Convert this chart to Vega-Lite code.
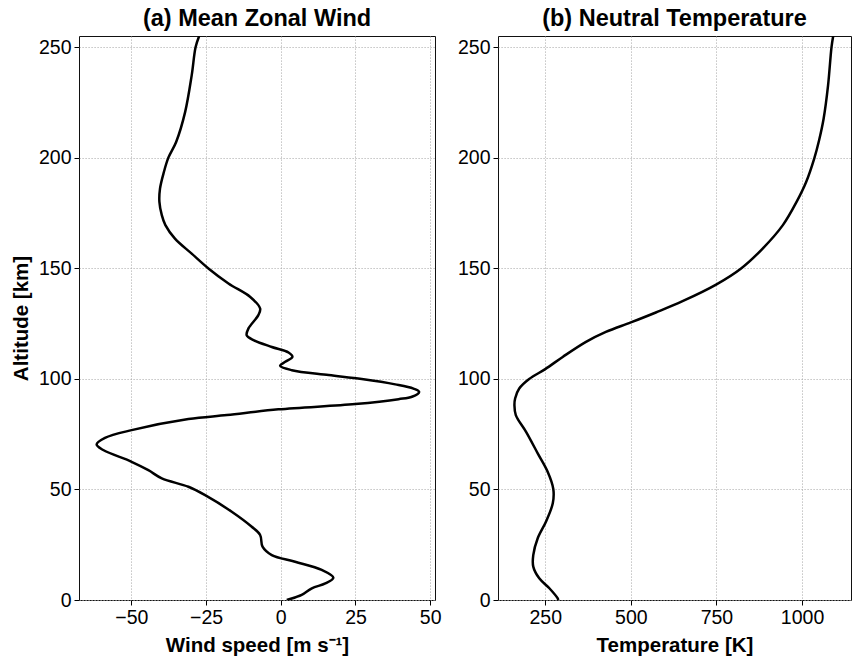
{
  "$schema": "https://vega.github.io/schema/vega-lite/v6.json",
  "background": "white",
  "padding": {"left": 11, "top": 6, "right": 2, "bottom": 2},
  "bounds": "flush",
  "spacing": 63,
  "config": {
    "font": "Liberation Sans",
    "view": {"stroke": "#111", "strokeWidth": 1},
    "axis": {
      "grid": true,
      "gridColor": "#aaaaaa",
      "gridDash": [1.2, 1.8],
      "gridWidth": 0.9,
      "domain": false,
      "tickColor": "#000",
      "tickSize": 5,
      "tickWidth": 1,
      "labelFont": "Liberation Sans",
      "labelFontSize": 19.5,
      "labelColor": "#000",
      "labelPadding": 3,
      "format": "d",
      "titleFont": "Liberation Sans",
      "titleFontSize": 20.5,
      "titleFontWeight": "bold",
      "titleColor": "#000"
    },
    "title": {
      "font": "Liberation Sans",
      "fontSize": 23.5,
      "fontWeight": "bold",
      "color": "#000",
      "anchor": "middle",
      "offset": 6
    }
  },
  "datasets": {
    "wind": [
      {"alt": 0, "speed": 2.0},
      {"alt": 2.3, "speed": 7.0},
      {"alt": 5.3, "speed": 10.4},
      {"alt": 7.5, "speed": 14.9},
      {"alt": 10.1, "speed": 17.6},
      {"alt": 13.6, "speed": 13.7},
      {"alt": 17.3, "speed": 4.8},
      {"alt": 20.3, "speed": -3.0},
      {"alt": 24.1, "speed": -6.1},
      {"alt": 29.4, "speed": -6.9},
      {"alt": 33.1, "speed": -9.7},
      {"alt": 39.9, "speed": -16.4},
      {"alt": 47.4, "speed": -25.3},
      {"alt": 51.2, "speed": -30.9},
      {"alt": 55.0, "speed": -39.8},
      {"alt": 58.7, "speed": -44.3},
      {"alt": 62.5, "speed": -49.9},
      {"alt": 67.8, "speed": -59.4},
      {"alt": 70.3, "speed": -61.6},
      {"alt": 73.3, "speed": -58.8},
      {"alt": 76.8, "speed": -49.9},
      {"alt": 81.8, "speed": -30.9},
      {"alt": 83.6, "speed": -18.0},
      {"alt": 86.2, "speed": -0.8},
      {"alt": 88.6, "speed": 24.9},
      {"alt": 90.8, "speed": 39.4},
      {"alt": 91.9, "speed": 43.9},
      {"alt": 94.1, "speed": 46.3},
      {"alt": 95.6, "speed": 44.4},
      {"alt": 97.5, "speed": 38.3},
      {"alt": 99.9, "speed": 27.1},
      {"alt": 101.7, "speed": 16.0},
      {"alt": 103.9, "speed": 3.7},
      {"alt": 105.9, "speed": -0.2},
      {"alt": 107.7, "speed": 1.5},
      {"alt": 109.9, "speed": 3.9},
      {"alt": 111.9, "speed": 2.6},
      {"alt": 114.4, "speed": -3.0},
      {"alt": 117.5, "speed": -9.1},
      {"alt": 119.7, "speed": -11.4},
      {"alt": 122.8, "speed": -10.8},
      {"alt": 128.8, "speed": -7.5},
      {"alt": 131.8, "speed": -6.9},
      {"alt": 137.0, "speed": -10.2},
      {"alt": 143.1, "speed": -17.5},
      {"alt": 149.9, "speed": -24.2},
      {"alt": 156.6, "speed": -29.8},
      {"alt": 163.4, "speed": -35.4},
      {"alt": 169.5, "speed": -38.6},
      {"alt": 174.0, "speed": -39.8},
      {"alt": 180.0, "speed": -40.6},
      {"alt": 186.0, "speed": -40.4},
      {"alt": 193.5, "speed": -39.1},
      {"alt": 200.0, "speed": -37.6},
      {"alt": 207.1, "speed": -35.0},
      {"alt": 220.6, "speed": -32.0},
      {"alt": 237.2, "speed": -29.8},
      {"alt": 249.9, "speed": -28.5},
      {"alt": 255.0, "speed": -27.3}
    ],
    "temp": [
      {"alt": 0, "temp": 288},
      {"alt": 0.8, "temp": 286},
      {"alt": 5.3, "temp": 262},
      {"alt": 9.8, "temp": 232.5},
      {"alt": 15.1, "temp": 215},
      {"alt": 20.3, "temp": 215},
      {"alt": 27.9, "temp": 228},
      {"alt": 35.4, "temp": 252},
      {"alt": 43.7, "temp": 272},
      {"alt": 50.2, "temp": 273.5},
      {"alt": 58.0, "temp": 257},
      {"alt": 66.3, "temp": 228},
      {"alt": 76.0, "temp": 194},
      {"alt": 83.6, "temp": 164},
      {"alt": 88.0, "temp": 160},
      {"alt": 91.1, "temp": 162},
      {"alt": 95.6, "temp": 174},
      {"alt": 99.9, "temp": 203},
      {"alt": 104.4, "temp": 250},
      {"alt": 109.9, "temp": 301},
      {"alt": 116.7, "temp": 369},
      {"alt": 121.2, "temp": 427},
      {"alt": 125.5, "temp": 500},
      {"alt": 130.0, "temp": 573},
      {"alt": 135.1, "temp": 651},
      {"alt": 142.6, "temp": 749},
      {"alt": 149.9, "temp": 822},
      {"alt": 158.9, "temp": 885},
      {"alt": 169.5, "temp": 944},
      {"alt": 180.0, "temp": 984},
      {"alt": 189.0, "temp": 1012},
      {"alt": 199.8, "temp": 1036},
      {"alt": 208.0, "temp": 1050},
      {"alt": 217.6, "temp": 1063},
      {"alt": 232.7, "temp": 1076},
      {"alt": 249.9, "temp": 1086},
      {"alt": 255.0, "temp": 1091}
    ]
  },
  "hconcat": [
    {
      "title": "(a) Mean Zonal Wind",
      "width": 356,
      "height": 564,
      "data": {"name": "wind"},
      "mark": {"type": "line", "color": "#000", "strokeWidth": 2.5, "interpolate": "catmull-rom", "clip": true},
      "encoding": {
        "x": {
          "field": "speed",
          "type": "quantitative",
          "scale": {"domain": [-67.5, 51.6], "nice": false, "zero": false},
          "axis": {"values": [-50, -25, 0, 25, 50], "title": "Wind speed [m s⁻¹]", "titlePadding": 9}
        },
        "y": {
          "field": "alt",
          "type": "quantitative",
          "scale": {"domain": [0, 255], "nice": false, "zero": false},
          "axis": {"values": [0, 50, 100, 150, 200, 250], "title": "Altitude [km]", "titlePadding": 6.5}
        },
        "order": {"field": "alt", "type": "quantitative"}
      }
    },
    {
      "title": "(b) Neutral Temperature",
      "width": 353,
      "height": 564,
      "data": {"name": "temp"},
      "mark": {"type": "line", "color": "#000", "strokeWidth": 2.5, "interpolate": "catmull-rom", "clip": true},
      "encoding": {
        "x": {
          "field": "temp",
          "type": "quantitative",
          "scale": {"domain": [112, 1143], "nice": false, "zero": false},
          "axis": {"values": [250, 500, 750, 1000], "title": "Temperature [K]", "titlePadding": 9}
        },
        "y": {
          "field": "alt",
          "type": "quantitative",
          "scale": {"domain": [0, 255], "nice": false, "zero": false},
          "axis": {"values": [0, 50, 100, 150, 200, 250], "title": null}
        },
        "order": {"field": "alt", "type": "quantitative"}
      }
    }
  ]
}
